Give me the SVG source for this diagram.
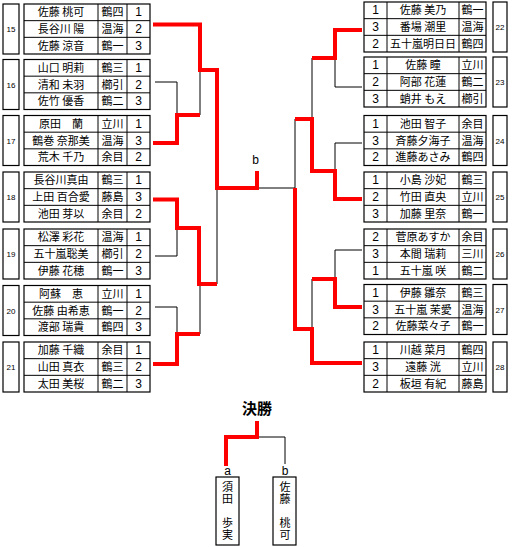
<svg xmlns="http://www.w3.org/2000/svg" width="513" height="547" viewBox="0 0 513 547">
<style>
.bx{fill:#fff;stroke:#000;stroke-width:1.2}
.gr{fill:none;stroke:#000;stroke-width:1}
.t{font-family:"Noto Sans CJK JP","Noto Sans CJK SC",sans-serif;font-size:11px;text-anchor:middle;fill:#000}
.v{font-family:"Noto Sans CJK JP","Noto Sans CJK SC",sans-serif;font-size:11px;text-anchor:start;writing-mode:vertical-rl;letter-spacing:1px;fill:#000}
.d{font-family:"Liberation Sans",Arial,sans-serif;font-size:12px;text-anchor:middle;fill:#000}
.n{font-family:"Liberation Sans",Arial,sans-serif;font-size:8px;text-anchor:middle;fill:#000}
.r{fill:none;stroke:#f00;stroke-width:4}
.k{fill:none;stroke:#000;stroke-width:1}
.h{font-family:"Noto Sans CJK JP",sans-serif;font-size:15px;font-weight:700;text-anchor:middle}
.ab{font-family:"Liberation Sans",Arial,sans-serif;font-size:12px;text-anchor:middle}
</style>
<rect width="513" height="547" fill="#fff"/>

<!-- Left groups -->
<g id="g15">
<rect class="bx" x="3" y="4" width="16" height="50"/><text class="n" x="11" y="32">15</text>
<rect class="bx" x="24" y="4" width="126" height="50"/>
<path class="gr" d="M24,20.67H150M24,37.33H150M98,4V54M127,4V54"/>
<text class="t" x="61" y="16.3">佐藤 桃可</text><text class="t" x="112.5" y="16.3">鶴四</text><text class="d" x="138.5" y="16.3">1</text>
<text class="t" x="61" y="33">長谷川 陽</text><text class="t" x="112.5" y="33">温海</text><text class="d" x="138.5" y="33">2</text>
<text class="t" x="61" y="49.7">佐藤 涼音</text><text class="t" x="112.5" y="49.7">鶴一</text><text class="d" x="138.5" y="49.7">3</text>
</g>
<g id="g16">
<rect class="bx" x="3" y="59.5" width="16" height="50"/><text class="n" x="11" y="87.5">16</text>
<rect class="bx" x="24" y="59.5" width="126" height="50"/>
<path class="gr" d="M24,76.17H150M24,92.83H150M98,59.5V109.5M127,59.5V109.5"/>
<text class="t" x="61" y="71.8">山口 明莉</text><text class="t" x="112.5" y="71.8">鶴三</text><text class="d" x="138.5" y="71.8">1</text>
<text class="t" x="61" y="88.5">清和 未羽</text><text class="t" x="112.5" y="88.5">櫛引</text><text class="d" x="138.5" y="88.5">2</text>
<text class="t" x="61" y="105.2">佐竹 優香</text><text class="t" x="112.5" y="105.2">鶴二</text><text class="d" x="138.5" y="105.2">3</text>
</g>
<g id="g17">
<rect class="bx" x="3" y="115.5" width="16" height="50"/><text class="n" x="11" y="143.5">17</text>
<rect class="bx" x="24" y="115.5" width="126" height="50"/>
<path class="gr" d="M24,132.17H150M24,148.83H150M98,115.5V165.5M127,115.5V165.5"/>
<text class="t" x="61" y="127.8">原田　蘭</text><text class="t" x="112.5" y="127.8">立川</text><text class="d" x="138.5" y="127.8">1</text>
<text class="t" x="61" y="144.5">鶴巻 奈那美</text><text class="t" x="112.5" y="144.5">温海</text><text class="d" x="138.5" y="144.5">3</text>
<text class="t" x="61" y="161.2">荒木 千乃</text><text class="t" x="112.5" y="161.2">余目</text><text class="d" x="138.5" y="161.2">2</text>
</g>
<g id="g18">
<rect class="bx" x="3" y="172" width="16" height="50"/><text class="n" x="11" y="200">18</text>
<rect class="bx" x="24" y="172" width="126" height="50"/>
<path class="gr" d="M24,188.67H150M24,205.33H150M98,172V222M127,172V222"/>
<text class="t" x="61" y="184.3">長谷川真由</text><text class="t" x="112.5" y="184.3">鶴三</text><text class="d" x="138.5" y="184.3">1</text>
<text class="t" x="61" y="201">上田 百合愛</text><text class="t" x="112.5" y="201">藤島</text><text class="d" x="138.5" y="201">3</text>
<text class="t" x="61" y="217.7">池田 芽以</text><text class="t" x="112.5" y="217.7">余目</text><text class="d" x="138.5" y="217.7">2</text>
</g>
<g id="g19">
<rect class="bx" x="3" y="229" width="16" height="50"/><text class="n" x="11" y="257">19</text>
<rect class="bx" x="24" y="229" width="126" height="50"/>
<path class="gr" d="M24,245.67H150M24,262.33H150M98,229V279M127,229V279"/>
<text class="t" x="61" y="241.3">松澤 彩花</text><text class="t" x="112.5" y="241.3">温海</text><text class="d" x="138.5" y="241.3">1</text>
<text class="t" x="61" y="258">五十嵐聡美</text><text class="t" x="112.5" y="258">櫛引</text><text class="d" x="138.5" y="258">2</text>
<text class="t" x="61" y="274.7">伊藤 花穂</text><text class="t" x="112.5" y="274.7">鶴一</text><text class="d" x="138.5" y="274.7">3</text>
</g>
<g id="g20">
<rect class="bx" x="3" y="285.5" width="16" height="50"/><text class="n" x="11" y="313.5">20</text>
<rect class="bx" x="24" y="285.5" width="126" height="50"/>
<path class="gr" d="M24,302.17H150M24,318.83H150M98,285.5V335.5M127,285.5V335.5"/>
<text class="t" x="61" y="297.8">阿蘇　恵</text><text class="t" x="112.5" y="297.8">立川</text><text class="d" x="138.5" y="297.8">1</text>
<text class="t" x="61" y="314.5">佐藤 由希恵</text><text class="t" x="112.5" y="314.5">鶴一</text><text class="d" x="138.5" y="314.5">2</text>
<text class="t" x="61" y="331.2">渡部 瑞貴</text><text class="t" x="112.5" y="331.2">鶴四</text><text class="d" x="138.5" y="331.2">3</text>
</g>
<g id="g21">
<rect class="bx" x="3" y="342" width="16" height="50"/><text class="n" x="11" y="370">21</text>
<rect class="bx" x="24" y="342" width="126" height="50"/>
<path class="gr" d="M24,358.67H150M24,375.33H150M98,342V392M127,342V392"/>
<text class="t" x="61" y="354.3">加藤 千織</text><text class="t" x="112.5" y="354.3">余目</text><text class="d" x="138.5" y="354.3">1</text>
<text class="t" x="61" y="371">山田 真衣</text><text class="t" x="112.5" y="371">鶴三</text><text class="d" x="138.5" y="371">2</text>
<text class="t" x="61" y="387.7">太田 美桜</text><text class="t" x="112.5" y="387.7">鶴二</text><text class="d" x="138.5" y="387.7">3</text>
</g>

<!-- Right groups -->
<g id="g22">
<rect class="bx" x="493" y="2" width="14" height="50"/><text class="n" x="500" y="30">22</text>
<rect class="bx" x="364" y="2" width="122" height="50"/>
<path class="gr" d="M364,18.67H486M364,35.33H486M387,2V52M459,2V52"/>
<text class="d" x="375.5" y="14.3">1</text><text class="t" x="423" y="14.3">佐藤 美乃</text><text class="t" x="472.5" y="14.3">鶴一</text>
<text class="d" x="375.5" y="31">3</text><text class="t" x="423" y="31">番場 潮里</text><text class="t" x="472.5" y="31">温海</text>
<text class="d" x="375.5" y="47.7">2</text><text class="t" x="423" y="47.7">五十嵐明日日</text><text class="t" x="472.5" y="47.7">鶴四</text>
</g>
<g id="g23">
<rect class="bx" x="493" y="57" width="14" height="50"/><text class="n" x="500" y="85">23</text>
<rect class="bx" x="364" y="57" width="122" height="50"/>
<path class="gr" d="M364,73.67H486M364,90.33H486M387,57V107M459,57V107"/>
<text class="d" x="375.5" y="69.3">1</text><text class="t" x="423" y="69.3">佐藤 瞳</text><text class="t" x="472.5" y="69.3">立川</text>
<text class="d" x="375.5" y="86">2</text><text class="t" x="423" y="86">阿部 花蓮</text><text class="t" x="472.5" y="86">鶴二</text>
<text class="d" x="375.5" y="102.7">3</text><text class="t" x="423" y="102.7">蛸井 もえ</text><text class="t" x="472.5" y="102.7">櫛引</text>
</g>
<g id="g24">
<rect class="bx" x="493" y="115.5" width="14" height="50"/><text class="n" x="500" y="143.5">24</text>
<rect class="bx" x="364" y="115.5" width="122" height="50"/>
<path class="gr" d="M364,132.17H486M364,148.83H486M387,115.5V165.5M459,115.5V165.5"/>
<text class="d" x="375.5" y="127.8">1</text><text class="t" x="423" y="127.8">池田 智子</text><text class="t" x="472.5" y="127.8">余目</text>
<text class="d" x="375.5" y="144.5">3</text><text class="t" x="423" y="144.5">斉藤夕海子</text><text class="t" x="472.5" y="144.5">温海</text>
<text class="d" x="375.5" y="161.2">2</text><text class="t" x="423" y="161.2">進藤あさみ</text><text class="t" x="472.5" y="161.2">鶴四</text>
</g>
<g id="g25">
<rect class="bx" x="493" y="172" width="14" height="50"/><text class="n" x="500" y="200">25</text>
<rect class="bx" x="364" y="172" width="122" height="50"/>
<path class="gr" d="M364,188.67H486M364,205.33H486M387,172V222M459,172V222"/>
<text class="d" x="375.5" y="184.3">1</text><text class="t" x="423" y="184.3">小島 沙妃</text><text class="t" x="472.5" y="184.3">鶴三</text>
<text class="d" x="375.5" y="201">2</text><text class="t" x="423" y="201">竹田 直央</text><text class="t" x="472.5" y="201">立川</text>
<text class="d" x="375.5" y="217.7">3</text><text class="t" x="423" y="217.7">加藤 里奈</text><text class="t" x="472.5" y="217.7">鶴一</text>
</g>
<g id="g26">
<rect class="bx" x="493" y="229" width="14" height="50"/><text class="n" x="500" y="257">26</text>
<rect class="bx" x="364" y="229" width="122" height="50"/>
<path class="gr" d="M364,245.67H486M364,262.33H486M387,229V279M459,229V279"/>
<text class="d" x="375.5" y="241.3">2</text><text class="t" x="423" y="241.3">菅原あすか</text><text class="t" x="472.5" y="241.3">余目</text>
<text class="d" x="375.5" y="258">3</text><text class="t" x="423" y="258">本間 瑞莉</text><text class="t" x="472.5" y="258">三川</text>
<text class="d" x="375.5" y="274.7">1</text><text class="t" x="423" y="274.7">五十嵐 咲</text><text class="t" x="472.5" y="274.7">鶴二</text>
</g>
<g id="g27">
<rect class="bx" x="493" y="284.5" width="14" height="50"/><text class="n" x="500" y="312.5">27</text>
<rect class="bx" x="364" y="284.5" width="122" height="50"/>
<path class="gr" d="M364,301.17H486M364,317.83H486M387,284.5V334.5M459,284.5V334.5"/>
<text class="d" x="375.5" y="296.8">1</text><text class="t" x="423" y="296.8">伊藤 雛奈</text><text class="t" x="472.5" y="296.8">鶴三</text>
<text class="d" x="375.5" y="313.5">3</text><text class="t" x="423" y="313.5">五十嵐 茉愛</text><text class="t" x="472.5" y="313.5">温海</text>
<text class="d" x="375.5" y="330.2">2</text><text class="t" x="423" y="330.2">佐藤菜々子</text><text class="t" x="472.5" y="330.2">鶴一</text>
</g>
<g id="g28">
<rect class="bx" x="493" y="342" width="14" height="50"/><text class="n" x="500" y="370">28</text>
<rect class="bx" x="364" y="342" width="122" height="50"/>
<path class="gr" d="M364,358.67H486M364,375.33H486M387,342V392M459,342V392"/>
<text class="d" x="375.5" y="354.3">1</text><text class="t" x="423" y="354.3">川越 菜月</text><text class="t" x="472.5" y="354.3">鶴四</text>
<text class="d" x="375.5" y="371">3</text><text class="t" x="423" y="371">遠藤 洸</text><text class="t" x="472.5" y="371">立川</text>
<text class="d" x="375.5" y="387.7">2</text><text class="t" x="423" y="387.7">板垣 有紀</text><text class="t" x="472.5" y="387.7">藤島</text>
</g>

<!-- Connectors -->
<g id="connectors">
<path class="k" d="M155,82H177V115M200,115V70M155,256H177V228M155,307H177V334M200,334V284M217,188V284M257,188H295V119"/>
<path class="k" d="M362,87H335V58M312,58V119M362,143H335V171M362,250H335V279M312,279V329"/>
<path class="r" d="M153,24.5H200V70H217V188H257V171"/>
<path class="r" d="M153,143H177V115H200"/>
<path class="r" d="M153,199.5H177V228H199V284H217"/>
<path class="r" d="M153,364H177V334H200"/>
<path class="r" d="M362,30H335V58H312"/>
<path class="r" d="M362,199H335V171H312V119H295"/>
<path class="r" d="M295,188V329H312V363H362"/>
<path class="r" d="M362,307H335V279H312"/>
<text class="ab" x="255.5" y="164">b</text>
</g>

<!-- Final -->
<g id="final">
<text class="h" x="257" y="414">決勝</text>
<path class="k" d="M257,437H285V464"/>
<path class="r" d="M257,421V437H226V466"/>
<text class="ab" x="227.5" y="475">a</text>
<text class="ab" x="285" y="475">b</text>
</g>
<g id="finalist-a">
<rect class="bx" x="216" y="477" width="23" height="68"/>
<text class="v" x="227.5" y="481.5">須田　歩実</text>
</g>
<g id="finalist-b">
<rect class="bx" x="273" y="477" width="23" height="68"/>
<text class="v" x="285" y="481.5">佐藤　桃可</text>
</g>
</svg>
